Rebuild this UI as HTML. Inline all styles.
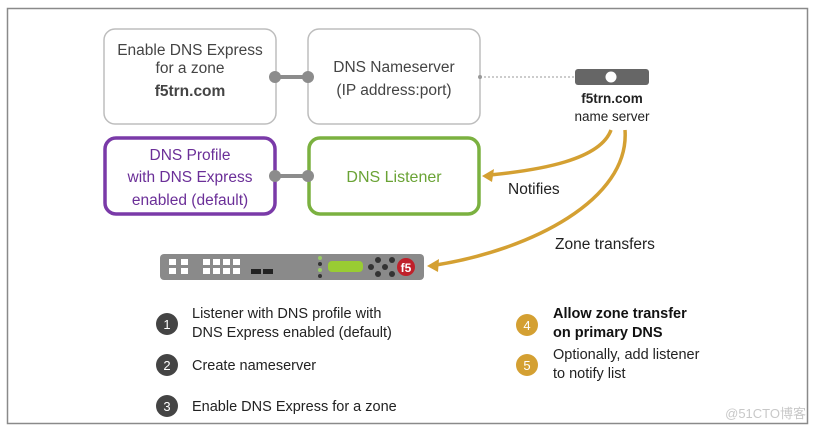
<!DOCTYPE html>
<html><head><meta charset="utf-8"><style>
html,body{margin:0;padding:0;background:#fff;}
svg{display:block;}
text{font-family:"Liberation Sans","Noto Sans CJK SC",sans-serif;}
</style></head><body>
<svg width="816" height="428" viewBox="0 0 816 428" xmlns="http://www.w3.org/2000/svg">
<rect x="7.5" y="8.5" width="800" height="415" fill="#fff" stroke="#8a8a8a" stroke-width="1.5"/>
<!-- top boxes -->
<rect x="104" y="29" width="172" height="95" rx="11" fill="#fff" stroke="#bdbdbd" stroke-width="1.5"/>
<rect x="308" y="29" width="172" height="95" rx="11" fill="#fff" stroke="#bdbdbd" stroke-width="1.5"/>
<line x1="275" y1="77" x2="308" y2="77" stroke="#8c8c8c" stroke-width="4"/>
<circle cx="275" cy="77" r="6" fill="#8c8c8c"/><circle cx="308" cy="77" r="6" fill="#8c8c8c"/>
<text x="190" y="55" font-size="15.5" text-anchor="middle" fill="#444">Enable DNS Express</text>
<text x="190" y="73" font-size="15.5" text-anchor="middle" fill="#444">for a zone</text>
<text x="190" y="96" font-size="15.5" text-anchor="middle" fill="#444" font-weight="bold">f5trn.com</text>
<text x="394" y="72" font-size="15.5" text-anchor="middle" fill="#444">DNS Nameserver</text>
<text x="394" y="95" font-size="15.5" text-anchor="middle" fill="#444">(IP address:port)</text>
<!-- bottom boxes -->
<rect x="105" y="138" width="170" height="76" rx="11" fill="#fff" stroke="#7a3aa8" stroke-width="3.5"/>
<rect x="309" y="138" width="170" height="76" rx="11" fill="#fff" stroke="#7bb140" stroke-width="3.5"/>
<line x1="275" y1="176" x2="308" y2="176" stroke="#8c8c8c" stroke-width="4"/>
<circle cx="275" cy="176" r="6" fill="#8c8c8c"/><circle cx="308" cy="176" r="6" fill="#8c8c8c"/>
<text x="190" y="160" font-size="15.5" text-anchor="middle" fill="#6b2f98">DNS Profile</text>
<text x="190" y="182" font-size="15.5" text-anchor="middle" fill="#6b2f98">with DNS Express</text>
<text x="190" y="205" font-size="15.5" text-anchor="middle" fill="#6b2f98">enabled (default)</text>
<text x="394" y="182" font-size="16" text-anchor="middle" fill="#6aa335">DNS Listener</text>
<!-- dotted line & server -->
<line x1="480" y1="77" x2="577" y2="77" stroke="#999" stroke-width="1" stroke-dasharray="2,2"/>
<circle cx="480" cy="77" r="2" fill="#999"/>
<rect x="575" y="69" width="74" height="16" rx="3" fill="#666"/>
<circle cx="611" cy="77" r="5.5" fill="#fff"/>
<text x="612" y="103" font-size="13.5" text-anchor="middle" fill="#222" font-weight="bold">f5trn.com</text>
<text x="612" y="121" font-size="13.5" text-anchor="middle" fill="#222">name server</text>
<!-- arrows -->
<path d="M611 130 C600 160 540 170 490 175" fill="none" stroke="#d4a032" stroke-width="3.5"/>
<polygon points="482,176 494,169 492,182" fill="#d4a032"/>
<path d="M625 130 C630 200 530 250 436 265" fill="none" stroke="#d4a032" stroke-width="3.5"/>
<polygon points="427,266 439,259 438,272" fill="#d4a032"/>
<text x="508" y="194" font-size="15.5" fill="#222">Notifies</text>
<text x="555" y="249" font-size="15.5" fill="#222">Zone transfers</text>
<!-- device -->
<rect x="160" y="254" width="264" height="26" rx="4" fill="#8a8a8a"/>
<g fill="#fff">
<rect x="169" y="259" width="7" height="6"/><rect x="169" y="268" width="7" height="6"/>
<rect x="181" y="259" width="7" height="6"/><rect x="181" y="268" width="7" height="6"/>
<rect x="203" y="259" width="7" height="6"/><rect x="203" y="268" width="7" height="6"/>
<rect x="213" y="259" width="7" height="6"/><rect x="213" y="268" width="7" height="6"/>
<rect x="223" y="259" width="7" height="6"/><rect x="223" y="268" width="7" height="6"/>
<rect x="233" y="259" width="7" height="6"/><rect x="233" y="268" width="7" height="6"/>
</g>
<rect x="251" y="269" width="10" height="5" fill="#222"/><rect x="263" y="269" width="10" height="5" fill="#222"/>
<circle cx="320" cy="258" r="2" fill="#9c6"/><circle cx="320" cy="264" r="2" fill="#333"/><circle cx="320" cy="270" r="2" fill="#9c6"/><circle cx="320" cy="276" r="2" fill="#333"/>
<rect x="328" y="261" width="35" height="11" rx="4" fill="#9c3"/>
<g fill="#333"><circle cx="371" cy="267" r="3"/><circle cx="378" cy="260" r="3"/><circle cx="378" cy="274" r="3"/><circle cx="385" cy="267" r="3"/><circle cx="392" cy="260" r="3"/><circle cx="392" cy="274" r="3"/></g>
<circle cx="406" cy="267" r="9" fill="#c0202a"/>
<text x="406" y="272" font-size="12" text-anchor="middle" fill="#fff" font-weight="bold">f5</text>
<!-- bullets -->
<g font-size="14.5" fill="#222">
<circle cx="167" cy="324" r="11" fill="#444"/><text x="167" y="329" text-anchor="middle" fill="#fff" font-size="13">1</text>
<text x="192" y="318">Listener with DNS profile with</text>
<text x="192" y="337">DNS Express enabled (default)</text>
<circle cx="167" cy="365" r="11" fill="#444"/><text x="167" y="370" text-anchor="middle" fill="#fff" font-size="13">2</text>
<text x="192" y="370">Create nameserver</text>
<circle cx="167" cy="406" r="11" fill="#444"/><text x="167" y="411" text-anchor="middle" fill="#fff" font-size="13">3</text>
<text x="192" y="411">Enable DNS Express for a zone</text>
<circle cx="527" cy="325" r="11" fill="#d4a032"/><text x="527" y="330" text-anchor="middle" fill="#fff" font-size="13">4</text>
<text x="553" y="318" font-weight="bold" fill="#111">Allow zone transfer</text>
<text x="553" y="337" font-weight="bold" fill="#111">on primary DNS</text>
<circle cx="527" cy="365" r="11" fill="#d4a032"/><text x="527" y="370" text-anchor="middle" fill="#fff" font-size="13">5</text>
<text x="553" y="359">Optionally, add listener</text>
<text x="553" y="378">to notify list</text>
</g>
<text x="806" y="418" font-size="13" text-anchor="end" fill="#c8c8c8">@51CTO博客</text>
</svg>
</body></html>
